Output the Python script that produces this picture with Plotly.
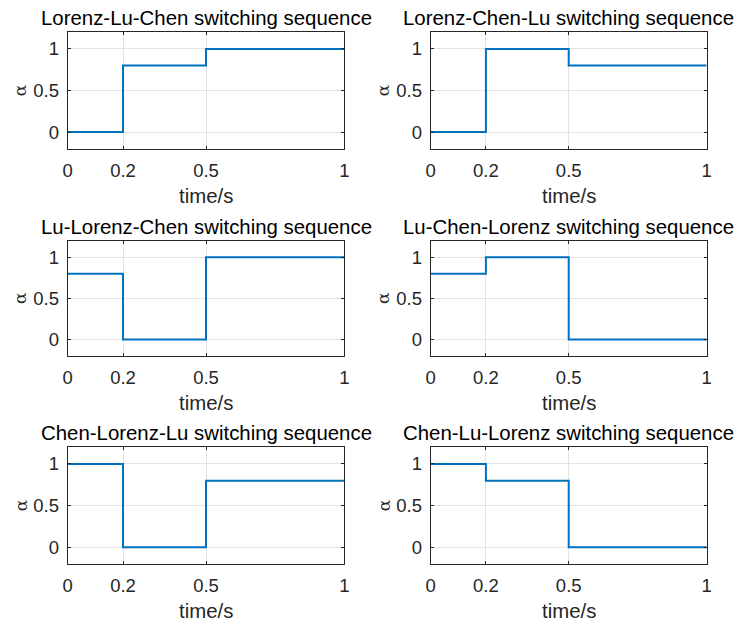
import plotly.graph_objects as go

time_points = [0, 0.2, 0.5, 1]
titles = [
    "Lorenz-Lu-Chen switching sequence",
    "Lorenz-Chen-Lu switching sequence",
    "Lu-Lorenz-Chen switching sequence",
    "Lu-Chen-Lorenz switching sequence",
    "Chen-Lorenz-Lu switching sequence",
    "Chen-Lu-Lorenz switching sequence",
]
alpha_lorenz_lu_chen = [0, 0.8, 1, 1]
alpha_lorenz_chen_lu = [0, 1, 0.8, 0.8]
alpha_lu_lorenz_chen = [0.8, 0, 1, 1]
alpha_lu_chen_lorenz = [0.8, 1, 0, 0]
alpha_chen_lorenz_lu = [1, 0, 0.8, 0.8]
alpha_chen_lu_lorenz = [1, 0.8, 0, 0]
series = [alpha_lorenz_lu_chen, alpha_lorenz_chen_lu, alpha_lu_lorenz_chen,
          alpha_lu_chen_lorenz, alpha_chen_lorenz_lu, alpha_chen_lu_lorenz]
x_ticks = [0, 0.2, 0.5, 1]
x_ticklabels = ["0", "0.2", "0.5", "1"]
y_ticks = [0, 0.5, 1]
y_ticklabels = ["0", "0.5", "1"]

W, H = 735, 623
cols = [(67.7, 344.3), (430.7, 706.7)]
rows = [(32.3, 148.7), (240.7, 356.0), (447.3, 564.0)]

FONT = "Liberation Sans, Arial, Helvetica, sans-serif"
AX = "#262626"
BLUE = "#0072BD"
GRID = "#e3e3e3"

fig = go.Figure()
annotations = []
for i, ys in enumerate(series):
    r, c = divmod(i, 2)
    n = i + 1
    xa = "x" if n == 1 else f"x{n}"
    ya = "y" if n == 1 else f"y{n}"
    fig.add_trace(go.Scatter(x=time_points, y=ys, mode="lines", line_shape="hv",
                             line=dict(color=BLUE, width=2), xaxis=xa, yaxis=ya,
                             showlegend=False, hoverinfo="skip"))
    x0, x1 = cols[c]
    y0, y1 = rows[r]
    common = dict(showline=True, linecolor=AX, linewidth=1, mirror="ticks",
                  ticks="inside", ticklen=3, tickcolor=AX, tickwidth=1,
                  showgrid=True, gridcolor=GRID, gridwidth=1, zeroline=False,
                  automargin=False,
                  tickfont=dict(family=FONT, size=18.5, color=AX))
    fig.layout[f"xaxis{'' if n == 1 else n}"] = dict(
        domain=[x0 / W, x1 / W], range=[0, 1], tickvals=x_ticks, ticktext=x_ticklabels,
        anchor=ya, ticklabelstandoff=5, **common)
    fig.layout[f"yaxis{'' if n == 1 else n}"] = dict(
        domain=[1 - y1 / H, 1 - y0 / H], range=[-0.2, 1.2], tickvals=y_ticks, ticktext=y_ticklabels,
        anchor=xa, ticklabelstandoff=4, **common)
    xd = f"{xa} domain"
    yd = f"{ya} domain"
    annotations.append(dict(text=titles[i], xref=xd, yref=yd, x=0.5, y=1, xanchor="center",
                            yanchor="bottom", yshift=1, showarrow=False,
                            font=dict(family=FONT, size=20.4, color="black")))
    annotations.append(dict(text="time/s", xref=xd, yref=yd, x=0.5, y=0, xanchor="center",
                            yanchor="middle", yshift=-47, showarrow=False,
                            font=dict(family=FONT, size=20.4, color=AX)))
    annotations.append(dict(text="α", xref=xd, yref=yd, x=0, y=0.5, xanchor="center",
                            yanchor="middle", xshift=-47, textangle=-90, showarrow=False,
                            font=dict(family="DejaVu Serif, serif", size=17, color=AX)))

fig.update_layout(width=W, height=H, margin=dict(l=0, r=0, t=0, b=0),
                  paper_bgcolor="white", plot_bgcolor="white",
                  annotations=annotations)
fig.write_html("out.html", config={"displayModeBar": False},
               post_script="document.body.style.margin='0px';document.body.style.overflow='hidden';")
